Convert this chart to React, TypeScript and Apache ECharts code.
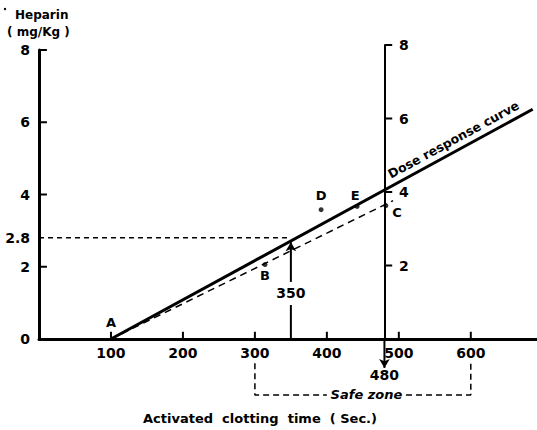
import React, { useEffect, useRef } from "react";
import * as echarts from "echarts";

// ---- data ----
const xTickValues = [100, 200, 300, 400, 500, 600];
const yLeftTickValues = [2, 4, 6, 8];
const yRightTickValues = [2, 4, 6, 8];
const xHiddenLabels = [0];
const yRightHiddenLabels = [0];
const readoutDose = 2.8;
const doseResponse = [[100, 0], [686, 6.36]];
const observedLine = [[100, 0], [492, 3.83]];
const guide28 = [[0, readoutDose], [350, readoutDose]];
const guide350Low = [[350, 0], [350, 0.94]];
const guide350High = [[350, 1.58], [350, 2.68]];
const guide480Low = [[480, 0], [480, -0.8]];
const safeLeft = [[300, -0.67], [300, -1.55], [400, -1.55]];
const safeRight = [[510, -1.55], [600, -1.55], [600, -0.67]];
const points = [
  { name: "B", value: [314, 2.06] },
  { name: "D", value: [392, 3.58] },
  { name: "E", value: [442, 3.67] },
  { name: "C", value: [482, 3.69] },
];
const pointA = [100, 0];
const label350 = [350, 1.28];
const label480 = [480, -1.0];
const safeZoneLabel = [455, -1.55];
const curveLabel = [576, 5.52];

const FONT = "DejaVu Sans";

export default function App() {
  const ref = useRef<HTMLDivElement>(null);
  useEffect(() => {
    if (!ref.current) return;
    const chart = echarts.init(ref.current, undefined, { renderer: "svg" });
    const black = "#000";
    const textLabel = (size: number, extra: any = {}) => ({
      show: true,
      color: black,
      opacity: 1,
      textBorderWidth: 0,
      textShadowBlur: 0,
      fontFamily: FONT,
      fontWeight: "bold",
      fontSize: size,
      ...extra,
    });
    const lineSeries = (data: any[], width: number, type: any, extra: any = {}) => ({
      type: "line",
      data,
      symbol: "none",
      clip: false,
      silent: true,
      lineStyle: { color: black, width, type },
      ...extra,
    });
    const pointLabel = (pos: any, name: string, label: any) => ({
      type: "scatter",
      clip: false,
      silent: true,
      symbolSize: 0,
      data: [{ value: pos, name }],
      label: { ...textLabel(14), formatter: name, ...label },
    });

    // tick marks: short segments from the axis, length given in axis units
    const X_TICK_LEN = 0.2; // y units (~7px)
    const YL_TICK_LEN = 11; // x units (~8px)
    const YR_TICK_LEN = 0.18; // grid-2 x units (~7px)
    const tickSeriesList: any[] = [
      ...xTickValues.map((v) => lineSeries([[v, 0], [v, X_TICK_LEN]], 2, "solid")),
      ...yLeftTickValues.map((v) => lineSeries([[0, v], [YL_TICK_LEN, v]], 2, "solid")),
      ...yRightTickValues.map((v) =>
        lineSeries([[0, v], [YR_TICK_LEN, v]], 2, "solid", { xAxisIndex: 1, yAxisIndex: 1 })
      ),
    ];

    const option: any = {
      animation: false,
      backgroundColor: "#fff",
      textStyle: { fontFamily: FONT },
      grid: [
        { left: 39, right: 0, top: 50, bottom: 91, outerBoundsMode: "none" },
        { left: 385, width: 40, top: 45, bottom: 91, outerBoundsMode: "none" },
      ],
      xAxis: [
        {
          type: "value",
          gridIndex: 0,
          min: 0,
          max: 692,
          interval: 100,
          splitLine: { show: false },
          axisLine: { show: true, onZero: false, lineStyle: { color: black, width: 3 } },
          axisTick: { show: false },
          axisLabel: {
            ...textLabel(14),
            margin: 7,
            showMaxLabel: false,
            formatter: (v: number) => (xHiddenLabels.includes(v) ? "" : String(v)),
          },
        },
        { type: "value", gridIndex: 1, min: 0, max: 1, show: false },
      ],
      yAxis: [
        {
          type: "value",
          gridIndex: 0,
          min: 0,
          max: 8,
          interval: 2,
          splitLine: { show: false },
          axisLine: { show: true, onZero: false, lineStyle: { color: black, width: 3 } },
          axisTick: { show: false },
          axisLabel: { ...textLabel(14), margin: 9 },
        },
        {
          type: "value",
          gridIndex: 1,
          position: "left",
          min: 0,
          max: 8,
          interval: 2,
          splitLine: { show: false },
          axisLine: { show: true, onZero: false, lineStyle: { color: black, width: 2 } },
          axisTick: { show: false },
          axisLabel: {
            ...textLabel(14),
            inside: true,
            margin: 14,
            formatter: (v: number) => (yRightHiddenLabels.includes(v) ? "" : String(v)),
          },
        },
      ],
      series: [
        lineSeries(doseResponse, 3, "solid"),
        lineSeries(observedLine, 1.5, [7, 5]),
        lineSeries(guide28, 1.5, [5, 4]),
        lineSeries(guide350Low, 2, "solid"),
        lineSeries(
          [guide350High[0], { value: guide350High[1], symbol: "arrow", symbolSize: [8, 9] }],
          2,
          "solid",
          { symbol: "none", showSymbol: true, itemStyle: { color: black } }
        ),
        lineSeries(
          [guide480Low[0], { value: guide480Low[1], symbol: "arrow", symbolSize: [8, 9], symbolRotate: 180 }],
          2,
          "solid",
          { symbol: "none", showSymbol: true, itemStyle: { color: black } }
        ),
        lineSeries(safeLeft, 1.5, [6, 4]),
        lineSeries(safeRight, 1.5, [6, 4]),
        ...tickSeriesList,
        {
          type: "scatter",
          clip: false,
          silent: true,
          symbolSize: 5,
          itemStyle: { color: black },
          data: points.map((p) => {
            const cfg: any = {
              B: { position: "bottom", distance: 2 },
              D: { position: "top", distance: 5 },
              E: { position: "top", distance: 2, offset: [-2, 0] },
              C: { position: "right", distance: 4, offset: [0, 7] },
            }[p.name];
            return { value: p.value, name: p.name, label: cfg };
          }),
          label: { ...textLabel(13), formatter: "{b}" },
        },
        pointLabel(guide28[0], String(readoutDose), { position: "left", distance: 9 }),
        pointLabel(pointA, "A", { position: "top", distance: 10, fontSize: 13 }),
        pointLabel(label350, "350", { position: "inside" }),
        pointLabel(label480, "480", { position: "inside" }),
        pointLabel(safeZoneLabel, "Safe zone", { position: "inside", fontStyle: "italic", fontSize: 13 }),
        pointLabel(curveLabel, "Dose response curve", { position: "inside", rotate: 28.6, fontSize: 12.5 }),
      ],
      graphic: [
        { type: "circle", shape: { cx: 5, cy: 9, r: 1.2 }, style: { fill: black } },
        {
          type: "text",
          left: 15,
          top: 9,
          style: { text: "Heparin", fill: black, font: `bold 12px "${FONT}"` },
        },
        {
          type: "text",
          left: 7,
          top: 26,
          style: { text: "( mg/Kg )", fill: black, font: `bold 12px "${FONT}"` },
        },
        {
          type: "text",
          left: 143,
          top: 412,
          style: { text: "Activated  clotting  time  ( Sec.)", fill: black, font: `bold 13px "${FONT}"` },
        },
      ],
    };
    chart.setOption(option);
    return () => chart.dispose();
  }, []);
  return (
    <div
      ref={ref}
      style={{ position: "absolute", left: 0, top: 0, width: 537, height: 430, background: "#fff" }}
    />
  );
}
